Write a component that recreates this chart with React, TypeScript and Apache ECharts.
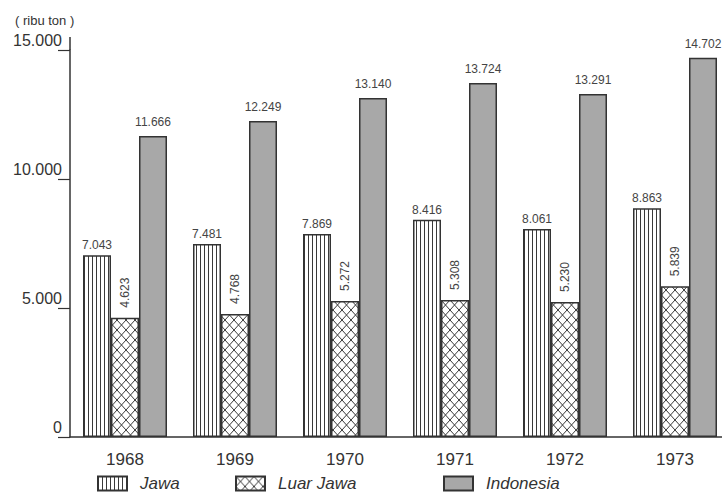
import React, { useEffect, useRef } from 'react';
import * as echarts from 'echarts';

const years = ['1968', '1969', '1970', '1971', '1972', '1973'];
const jawa = [7043, 7481, 7869, 8416, 8061, 8863];
const luarJawa = [4623, 4768, 5272, 5308, 5230, 5839];
const indonesia = [11666, 12249, 13140, 13724, 13291, 14702];
const seriesNames = ['Jawa', 'Luar Jawa', 'Indonesia'];
const unitLabel = '( ribu ton )';

const FONT = '"Liberation Sans", Arial, sans-serif';
const INK = '#333333';

function fmt(v: number): string {
  return String(v).replace(/\B(?=(\d{3})+(?!\d))/g, '.');
}

function verticalPattern(): HTMLCanvasElement {
  const c = document.createElement('canvas');
  c.width = 4;
  c.height = 4;
  const g = c.getContext('2d')!;
  g.fillStyle = '#ffffff';
  g.fillRect(0, 0, 4, 4);
  g.fillStyle = '#3a3a3a';
  g.fillRect(0, 0, 1, 4);
  return c;
}

function crossPattern(): HTMLCanvasElement {
  const w = 9, h = 10;
  const c = document.createElement('canvas');
  c.width = w;
  c.height = h;
  const g = c.getContext('2d')!;
  g.fillStyle = '#ffffff';
  g.fillRect(0, 0, w, h);
  g.strokeStyle = '#3a3a3a';
  g.lineWidth = 1;
  g.beginPath();
  g.moveTo(0, 0);
  g.lineTo(w, h);
  g.moveTo(w, 0);
  g.lineTo(0, h);
  g.stroke();
  return c;
}

export default function App() {
  const ref = useRef<HTMLDivElement>(null);

  useEffect(() => {
    document.body.style.margin = '0';
    document.body.style.overflow = 'hidden';
    if (!ref.current) return;
    const chart = echarts.init(ref.current, null, { renderer: 'svg' });
    const jawaFill: any = { image: verticalPattern(), repeat: 'repeat' };
    const luarFill: any = { image: crossPattern(), repeat: 'repeat' };
    const indoFill = '#a8a8a8';

    const baseLabel = {
      show: true,
      position: 'top' as const,
      fontFamily: FONT,
      fontSize: 12,
      color: '#444',
      formatter: (p: any) => fmt(p.value),
    };
    const itemStyleFor = (color: any) => ({
      color,
      borderColor: INK,
      borderWidth: 1.5,
    });

    const legendCommon = {
      top: 475,
      icon: 'rect',
      itemWidth: 29,
      itemHeight: 14,
      padding: 0,
      textStyle: {
        fontFamily: FONT,
        fontSize: 17,
        fontStyle: 'italic' as const,
        color: INK,
        padding: [0, 0, 0, 8],
      },
      selectedMode: false,
    };

    chart.setOption({
      animation: false,
      backgroundColor: '#ffffff',
      title: {
        text: unitLabel,
        left: 10,
        top: 9,
        textStyle: { fontFamily: FONT, fontSize: 13, fontWeight: 'normal', color: INK },
      },
      legend: [
        { ...legendCommon, left: 97, data: [seriesNames[0]] },
        { ...legendCommon, left: 235, data: [seriesNames[1]] },
        { ...legendCommon, left: 443, data: [seriesNames[2]] },
      ],
      grid: { left: 70, width: 660, top: 50, bottom: 58, containLabel: false },
      graphic: [
        {
          type: 'line',
          shape: { x1: 70, y1: 37, x2: 70, y2: 50 },
          style: { stroke: INK, lineWidth: 1.5 },
        },
      ],
      xAxis: {
        type: 'category',
        data: years,
        axisLine: { lineStyle: { color: INK, width: 1.5 } },
        axisTick: { show: false },
        axisLabel: { fontFamily: FONT, fontSize: 17, color: INK, margin: 14 },
      },
      yAxis: {
        type: 'value',
        min: 0,
        max: 15000,
        interval: 5000,
        splitLine: { show: false },
        axisLine: { show: true, lineStyle: { color: INK, width: 1.5 } },
        axisTick: { show: true, length: 12, lineStyle: { color: INK, width: 1.2 } },
        axisLabel: {
          fontFamily: FONT,
          fontSize: 16,
          color: INK,
          margin: 8,
          verticalAlign: 'bottom',
          padding: [0, 0, 2, 0],
          formatter: (v: number) => fmt(v),
        },
      },
      series: [
        {
          name: seriesNames[0],
          type: 'bar',
          data: jawa,
          barWidth: 28,
          barGap: '0%',
          itemStyle: itemStyleFor(jawaFill),
          label: { ...baseLabel, distance: 4 },
        },
        {
          name: seriesNames[1],
          type: 'bar',
          data: luarJawa,
          barWidth: 28,
          barGap: '0%',
          itemStyle: itemStyleFor(luarFill),
          label: {
            ...baseLabel,
            rotate: 90,
            align: 'left',
            verticalAlign: 'middle',
            distance: 10,
          },
        },
        {
          name: seriesNames[2],
          type: 'bar',
          data: indonesia,
          barWidth: 28,
          barGap: '0%',
          itemStyle: itemStyleFor(indoFill),
          label: { ...baseLabel, distance: 8 },
        },
      ],
    });
    return () => chart.dispose();
  }, []);

  return (
    <div style={{ position: 'fixed', left: 0, top: 0, width: 722, height: 495, overflow: 'hidden' }}>
      <div ref={ref} style={{ width: 732, height: 495 }} />
    </div>
  );
}
